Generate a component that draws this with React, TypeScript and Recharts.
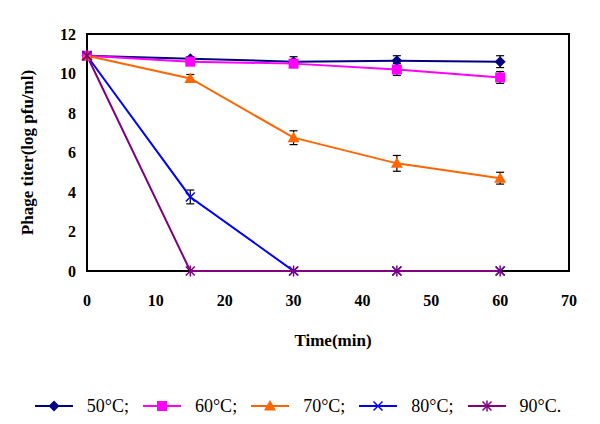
import React from "react";
import {
  LineChart,
  Line,
  XAxis,
  YAxis,
  ErrorBar,
  ReferenceArea,
  Legend,
  Label,
} from "recharts";

const times = [0, 15, 30, 45, 60];
const t50 = [10.9, 10.75, 10.6, 10.65, 10.6];
const t60 = [10.9, 10.6, 10.5, 10.2, 9.8];
const t70 = [10.9, 9.75, 6.75, 5.45, 4.7];
const t80 = [10.9, 3.75, 0, 0, 0];
const t90 = [10.9, 0, 0, 0, 0];

const e50 = [null, 0.1, 0.25, 0.25, 0.3];
const e60 = [null, 0.1, 0.2, 0.3, 0.3];
const e70 = [null, 0.2, 0.35, 0.4, 0.3];
const e80 = [null, 0.35, null, null, null];

const xTicks = [0, 10, 20, 30, 40, 50, 60, 70];
const yTicks = [0, 2, 4, 6, 8, 10, 12];

const data = times.map((t, i) => ({
  time: t,
  t50: t50[i],
  t60: t60[i],
  t70: t70[i],
  t80: t80[i],
  t90: t90[i],
  e50: e50[i],
  e60: e60[i],
  e70: e70[i],
  e80: e80[i],
}));

const FONT = '"Liberation Serif", "Times New Roman", serif';

type Shape = "diamond" | "square" | "triangle" | "x" | "star";

function Marker({ cx, cy, shape, color }: { cx: number; cy: number; shape: Shape; color: string }) {
  if (cx == null || cy == null) return null;
  if (shape === "diamond") {
    const r = 5.5;
    return <polygon points={`${cx},${cy - r} ${cx + r},${cy} ${cx},${cy + r} ${cx - r},${cy}`} fill={color} />;
  }
  if (shape === "square") {
    const r = 5;
    return <rect x={cx - r} y={cy - r} width={2 * r} height={2 * r} fill={color} />;
  }
  if (shape === "triangle") {
    const r = 6;
    return <polygon points={`${cx},${cy - r} ${cx + r},${cy + r * 0.75} ${cx - r},${cy + r * 0.75}`} fill={color} />;
  }
  const r = 4.5;
  return (
    <g stroke={color} strokeWidth={1.5}>
      <line x1={cx - r} y1={cy - r} x2={cx + r} y2={cy + r} />
      <line x1={cx - r} y1={cy + r} x2={cx + r} y2={cy - r} />
      {shape === "star" && <line x1={cx} y1={cy - r - 1} x2={cx} y2={cy + r + 1} />}
    </g>
  );
}

const series: { key: string; err?: string; name: string; color: string; shape: Shape }[] = [
  { key: "t50", err: "e50", name: "50°C;", color: "#000080", shape: "diamond" },
  { key: "t60", err: "e60", name: "60°C;", color: "#FF00FF", shape: "square" },
  { key: "t70", err: "e70", name: "70°C;", color: "#FF6600", shape: "triangle" },
  { key: "t80", err: "e80", name: "80°C;", color: "#0000FF", shape: "x" },
  { key: "t90", name: "90°C.", color: "#800080", shape: "star" },
];

function LegendContent() {
  return (
    <div
      style={{
        height: 36,
        display: "flex",
        alignItems: "center",
        justifyContent: "center",
        paddingLeft: 27,
        fontFamily: FONT,
        fontSize: 18,
        color: "#000",
      }}
    >
      {series.map((s, i) => (
        <div
          key={s.key}
          style={{ display: "flex", alignItems: "center", marginRight: i < series.length - 1 ? 14 : 0 }}
        >
          <svg width={38} height={14} style={{ marginRight: 14 }}>
            <line x1={0} y1={7} x2={38} y2={7} stroke={s.color} strokeWidth={2} />
            <Marker cx={19} cy={7} shape={s.shape} color={s.color} />
          </svg>
          <span>{s.name}</span>
        </div>
      ))}
    </div>
  );
}

export default function App() {
  const tickStyle = { fontSize: 16, fontWeight: "bold", fill: "#000", fontFamily: FONT };
  return (
    <div style={{ position: "absolute", left: 0, top: 0, background: "#fff" }}>
      <LineChart width={600} height={424} data={data} margin={{ top: 34, right: 31, left: 0, bottom: 0 }}>
        <ReferenceArea x1={0} x2={70} y1={0} y2={12} fill="none" stroke="#000" strokeWidth={2} ifOverflow="visible" />
        <XAxis
          type="number"
          dataKey="time"
          domain={[0, 70]}
          ticks={xTicks}
          axisLine={false}
          tickLine={false}
          tickSize={0}
          tickMargin={24}
          height={117}
          tick={tickStyle}
        >
          <Label
            value="Time(min)"
            position="insideBottom"
            offset={42}
            dx={5}
            style={{ fontSize: 17, fontWeight: "bold", fill: "#000", fontFamily: FONT }}
          />
        </XAxis>
        <YAxis
          type="number"
          domain={[0, 12]}
          ticks={yTicks}
          axisLine={false}
          tickLine={false}
          tickSize={0}
          tickMargin={11}
          width={87}
          tick={tickStyle}
        >
          <Label
            content={(props: any) => {
              const vb = props.viewBox || { x: 0, y: 34, width: 87, height: 237 };
              const x = vb.x + 27;
              const y = vb.y + vb.height / 2;
              return (
                <text
                  x={x}
                  y={y}
                  transform={`rotate(-90 ${x} ${y})`}
                  textAnchor="middle"
                  dominantBaseline="central"
                  fontSize={17}
                  fontWeight="bold"
                  fontFamily={FONT}
                  fill="#000"
                >
                  Phage titer(log pfu/ml)
                </text>
              );
            }}
          />
        </YAxis>
        <Legend verticalAlign="bottom" content={<LegendContent />} />
        {series.map((s) => (
          <Line
            key={s.key}
            type="linear"
            dataKey={s.key}
            name={s.name}
            stroke={s.color}
            strokeWidth={2}
            isAnimationActive={false}
            dot={(p: any) => <Marker key={`${s.key}-${p.index}`} cx={p.cx} cy={p.cy} shape={s.shape} color={s.color} />}
            activeDot={false}
          >
            {s.err && <ErrorBar dataKey={s.err} width={4} stroke="#000" strokeWidth={1.2} direction="y" />}
          </Line>
        ))}
      </LineChart>
    </div>
  );
}
